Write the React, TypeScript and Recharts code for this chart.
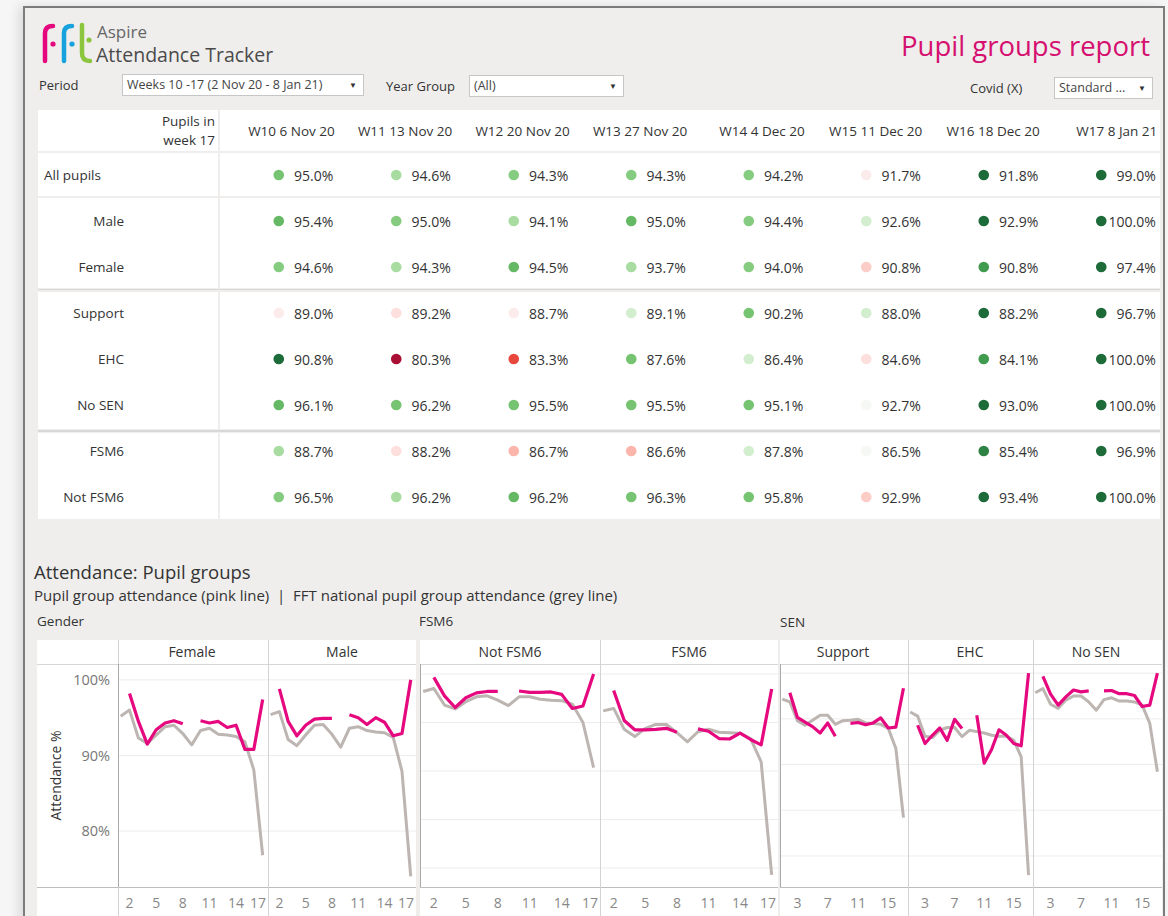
import React from 'react';
import { LineChart, Line, XAxis, YAxis, CartesianGrid, ScatterChart, Scatter } from 'recharts';

const FONT = '"Open Sans", "Noto Sans", Arial, sans-serif';
const PINK = '#e5087e';
const NATIONAL = '#bdb5b1';
const TEXT = '#333333';

// weekly summary table (weeks 10-17)
const weekHeaders = ['W10 6 Nov 20', 'W11 13 Nov 20', 'W12 20 Nov 20', 'W13 27 Nov 20', 'W14 4 Dec 20', 'W15 11 Dec 20', 'W16 18 Dec 20', 'W17 8 Jan 21'];
const groupRows = ['All pupils', 'Male', 'Female', 'Support', 'EHC', 'No SEN', 'FSM6', 'Not FSM6'];
const allPupilsPct = [95.0, 94.6, 94.3, 94.3, 94.2, 91.7, 91.8, 99.0];

// colour band of each table cell (-5 well below national ... 6 well above)
const allPupilsBand = [3.5, 2, 3, 3, 3, -1, 6, 6];
const maleBand = [4, 3, 2, 4, 3, 1, 6, 6];
const femaleBand = [3, 2, 4, 2, 3, -2, 5, 6];
const supportBand = [-1, -1.5, -1, 1, 3.5, 1, 6, 6];
const ehcBand = [6, -5, -4, 3.5, 1, -1.5, 5, 6];
const noSenBand = [4, 3.5, 3.5, 3.5, 3.5, 0, 6, 6];
const fsm6Band = [2, -1.5, -3, -3, 1, 0, 5.5, 6];
const notFsm6Band = [3, 2, 4, 3.5, 3.5, -2, 6, 6];

// weeks of the year shown in the small multiples
const weeks = [1, 2, 3, 4, 5, 6, 7, 8, 9, 10, 11, 12, 13, 14, 15, 16, 17];

const femaleSchool = [null, 98.2, 94.5, 91.5, 93.4, 94.3, 94.6, 94.2, null, 94.6, 94.3, 94.5, 93.7, 94.0, 90.8, 90.8, 97.4];
const femaleNational = [95.2, 96.0, 92.3, 91.6, 92.7, 93.8, 94.0, 92.9, 91.4, 93.3, 93.6, 92.8, 92.7, 92.5, 91.8, 88.1, 76.8];
const maleSchool = [null, 98.8, 94.5, 92.6, 94.0, 94.8, 94.9, 94.9, null, 95.4, 95.0, 94.1, 95.0, 94.4, 92.6, 92.9, 100.0];
const maleNational = [95.4, 95.8, 92.1, 91.3, 92.7, 94.0, 94.1, 92.8, 91.1, 93.6, 93.8, 93.3, 93.1, 93.0, 92.4, 87.9, 74.0];
const notFsm6School = [null, 99.3, 95.5, 93.1, 95.1, 96.1, 96.4, 96.4, null, 96.5, 96.2, 96.2, 96.3, 95.8, 92.9, 93.4, 100.0];
const notFsm6National = [96.4, 97.0, 93.6, 92.8, 94.3, 95.3, 95.5, 94.6, 93.5, 95.3, 95.3, 94.8, 94.6, 94.5, 93.8, 90.0, 80.7];
const fsm6School = [null, 96.6, 90.4, 88.5, 88.5, 88.6, 88.8, 88.0, null, 88.7, 88.2, 86.7, 86.6, 87.8, 86.5, 85.4, 96.9];
const fsm6National = [92.4, 92.9, 88.6, 87.1, 88.8, 89.6, 89.6, 87.9, 86.0, 88.1, 88.6, 88.0, 87.9, 87.8, 86.7, 81.9, 58.6];
const supportSchool = [null, 95.7, 90.3, 89.3, 88.3, 86.9, 89.1, 86.2, null, 89.0, 89.2, 88.7, 89.1, 90.2, 88.0, 88.2, 96.7];
const supportNational = [94.3, 93.7, 89.6, 88.6, 89.7, 90.8, 90.8, 88.8, 89.6, 89.7, 89.9, 89.1, 89.0, 88.8, 87.9, 83.5, 68.4];
const ehcSchool = [null, 88.6, 84.6, 86.4, 88.0, 85.3, 89.9, 87.9, null, 90.8, 80.3, 83.3, 87.6, 86.4, 84.6, 84.1, 100.0];
const ehcNational = [91.5, 90.6, 86.2, 85.9, 87.5, 88.1, 88.1, 86.1, 87.5, 87.2, 86.9, 86.4, 86.2, 86.2, 85.3, 81.7, 55.8];
const noSenSchool = [null, 99.3, 95.4, 93.0, 94.8, 96.3, 95.9, 96.1, null, 96.1, 96.2, 95.5, 95.5, 95.1, 92.7, 93.0, 100.0];
const noSenNational = [95.7, 96.6, 93.2, 92.3, 94.1, 95.0, 95.0, 93.7, 91.9, 94.2, 94.6, 93.9, 93.9, 93.7, 93.0, 89.0, 78.4];

const bandColor: Record<string, string> = {
  '-5': '#a90f33',
  '-4': '#e8473d',
  '-3': '#fbb5aa',
  '-2': '#fcccc6',
  '-1.5': '#fde0dd',
  '-1': '#fcebeb',
  '0': '#f5f8f3',
  '1': '#d3eecf',
  '2': '#a8dca1',
  '3': '#86cc80',
  '3.5': '#76c471',
  '4': '#66b964',
  '5': '#409b4e',
  '5.5': '#2e8344',
  '6': '#1e6b3a',
};

const tableValues = [
  allPupilsPct,
  maleSchool.slice(9),
  femaleSchool.slice(9),
  supportSchool.slice(9),
  ehcSchool.slice(9),
  noSenSchool.slice(9),
  fsm6School.slice(9),
  notFsm6School.slice(9),
];
const tableBands = [allPupilsBand, maleBand, femaleBand, supportBand, ehcBand, noSenBand, fsm6Band, notFsm6Band];

const tableData = tableValues.flatMap((vals, row) =>
  vals.map((v, col) => ({ col, row, value: v as number, band: tableBands[row][col] }))
);

type TxtProps = {
  x: number;
  y: number;
  size?: number;
  color?: string;
  weight?: number;
  align?: 'left' | 'right' | 'center';
  children: React.ReactNode;
};

function Txt({ x, y, size = 14, color = TEXT, weight = 400, align = 'left', children }: TxtProps) {
  const tx = align === 'left' ? '0' : align === 'right' ? '-100%' : '-50%';
  return (
    <div
      style={{
        position: 'absolute',
        left: x,
        top: y,
        transform: `translate(${tx}, -50%)`,
        fontSize: size,
        color,
        fontWeight: weight,
        fontFamily: FONT,
        lineHeight: 1,
        whiteSpace: 'pre',
      }}
    >
      {children}
    </div>
  );
}

function Box({ x, y, w, h, bg, style }: { x: number; y: number; w: number; h: number; bg?: string; style?: React.CSSProperties }) {
  return <div style={{ position: 'absolute', left: x, top: y, width: w, height: h, background: bg, ...style }} />;
}

function Dropdown({ x, y, w, label }: { x: number; y: number; w: number; label: string }) {
  return (
    <>
      <Box x={x} y={y} w={w} h={22} bg="#ffffff" style={{ border: '1px solid #c6c6c6', boxSizing: 'border-box' }} />
      <Txt x={x + 5} y={y + 11} size={12.5} color="#444">{label}</Txt>
      <Txt x={x + w - 11} y={y + 11} size={8} color="#333" align="center">▼</Txt>
    </>
  );
}

function HeaderTick(props: any) {
  const { x, payload } = props;
  return (
    <text x={x + 56} y={21} textAnchor="end" dominantBaseline="central" fontSize={13.5} fill={TEXT} fontFamily={FONT}>
      {weekHeaders[payload.value]}
    </text>
  );
}

function RowTick(props: any) {
  const { y, payload } = props;
  const first = payload.value === 0;
  return (
    <text x={first ? 6 : 86} y={y} textAnchor={first ? 'start' : 'end'} dominantBaseline="central" fontSize={13.5} fill={TEXT} fontFamily={FONT}>
      {groupRows[payload.value]}
    </text>
  );
}

function CellShape(props: any) {
  const { cx, cy, payload } = props;
  return (
    <g>
      <circle cx={cx} cy={cy} r={5.3} fill={bandColor[String(payload.band)]} />
      <text x={cx + 54.5} y={cy} textAnchor="end" dominantBaseline="central" fontSize={14} fill={TEXT} fontFamily={FONT}>
        {payload.value.toFixed(1)}%
      </text>
    </g>
  );
}

// keeps the last week label inside its panel, as the original does
function WeekTick(props: any) {
  const { x, y, payload, maxX } = props;
  const half = String(payload.value).length * 4;
  const cx = Math.min(x, maxX - half - 2);
  return (
    <text x={cx} y={y} dy="0.71em" textAnchor="middle" fontSize={14} fill="#888" fontFamily={FONT}>
      {payload.value}
    </text>
  );
}

const blocks: Record<string, { domain: [number, number]; grid: number[]; xTicks: number[] }> = {
  gender: { domain: [72.6, 102.1], grid: [80, 90, 100], xTicks: [2, 5, 8, 11, 14, 17] },
  fsm: { domain: [56.1, 102.06], grid: [60, 70, 80, 90, 100], xTicks: [2, 5, 8, 11, 14, 17] },
  sen: { domain: [53.2, 102.0], grid: [60, 70, 80, 90, 100], xTicks: [3, 7, 11, 15] },
};

const facets = [
  { name: 'Female', school: femaleSchool, national: femaleNational, block: 'gender', left: 37, width: 231, axis: true },
  { name: 'Male', school: maleSchool, national: maleNational, block: 'gender', left: 268, width: 148, axis: false },
  { name: 'Not FSM6', school: notFsm6School, national: notFsm6National, block: 'fsm', left: 420, width: 180, axis: false },
  { name: 'FSM6', school: fsm6School, national: fsm6National, block: 'fsm', left: 600, width: 178, axis: false },
  { name: 'Support', school: supportSchool, national: supportNational, block: 'sen', left: 780, width: 128, axis: false },
  { name: 'EHC', school: ehcSchool, national: ehcNational, block: 'sen', left: 908, width: 125, axis: false },
  { name: 'No SEN', school: noSenSchool, national: noSenNational, block: 'sen', left: 1033, width: 129, axis: false },
];

const PLOT_TOP = 664;
const CHART_H = 252;

function Facet({ f }: { f: (typeof facets)[number] }) {
  const b = blocks[f.block];
  const data = weeks.map((w, i) => ({ week: w, school: f.school[i], national: f.national[i] }));
  return (
    <div style={{ position: 'absolute', left: f.left, top: PLOT_TOP }}>
      <LineChart width={f.width} height={CHART_H} data={data} margin={{ top: 0, right: 0, bottom: 0, left: 0 }}>
        <CartesianGrid vertical={false} stroke="#ededed" horizontalValues={b.grid} />
        <XAxis
          type="number"
          dataKey="week"
          domain={[0.7, 17.6]}
          ticks={b.xTicks}
          height={29}
          axisLine={false}
          tickLine={false}
          tickMargin={5}
          interval={0}
          tick={(p: any) => <WeekTick {...p} maxX={f.width} />}
        />
        <YAxis
          type="number"
          domain={b.domain}
          allowDataOverflow
          ticks={b.grid}
          hide={!f.axis}
          width={f.axis ? 81 : 0}
          axisLine={false}
          tickLine={false}
          tickFormatter={(v: number) => `${v}%`}
          tick={{ fill: '#777', fontSize: 14.5, fontFamily: FONT }}
          label={f.axis ? { value: 'Attendance %', angle: -90, position: 'insideLeft', offset: 19, fill: TEXT, fontSize: 14, fontFamily: FONT, style: { textAnchor: 'middle' } } : undefined}
        />
        <Line type="linear" dataKey="national" stroke={NATIONAL} strokeWidth={3} dot={false} isAnimationActive={false} strokeLinejoin="round" />
        <Line type="linear" dataKey="school" stroke={PINK} strokeWidth={3.2} dot={false} isAnimationActive={false} connectNulls={false} strokeLinejoin="round" />
      </LineChart>
    </div>
  );
}

export default function App() {
  return (
    <div style={{ position: 'absolute', left: 0, top: 0, width: 1168, height: 916, overflow: 'hidden', background: '#f6f6f6', fontFamily: FONT }}>
      {/* frame */}
      <Box x={23} y={6} w={1142} h={930} bg="#efeeed" style={{ border: '2px solid #7c7c7c', boxSizing: 'border-box', boxShadow: '-5px 0 10px rgba(0,0,0,0.10)' }} />

      {/* logo */}
      <svg style={{ position: 'absolute', left: 0, top: 0 }} width={100} height={70}>
        <path d="M45 61 V33 Q45 26 53 26" stroke="#e5077e" strokeWidth={4.5} fill="none" strokeLinecap="round" />
        <circle cx={53} cy={44} r={2.6} fill="#e5077e" />
        <path d="M64 61 V33 Q64 26 72 26" stroke="#16a2dc" strokeWidth={4.5} fill="none" strokeLinecap="round" />
        <circle cx={72} cy={44} r={2.6} fill="#16a2dc" />
        <path d="M82 25 V53 Q82 61 90 61" stroke="#8cc63f" strokeWidth={4.5} fill="none" strokeLinecap="round" />
        <circle cx={89} cy={40} r={2.6} fill="#8cc63f" />
      </svg>
      <Txt x={97} y={30.5} size={17} color="#666">Aspire</Txt>
      <Txt x={96} y={55} size={19.5} color="#4a4a4a">Attendance Tracker</Txt>
      <Txt x={1150} y={46} size={27.5} color="#d5106f" align="right">Pupil groups report</Txt>

      {/* filters */}
      <Txt x={39} y={85} size={13}>Period</Txt>
      <Dropdown x={122} y={74} w={242} label="Weeks 10 -17 (2 Nov 20 - 8 Jan 21)" />
      <Txt x={386} y={86} size={13}>Year Group</Txt>
      <Dropdown x={469} y={75} w={155} label="(All)" />
      <Txt x={970} y={88} size={13}>Covid (X)</Txt>
      <Dropdown x={1054} y={77} w={99} label="Standard ..." />

      {/* table backgrounds */}
      <Box x={38} y={110} w={180} h={41} bg="#fff" />
      <Box x={220} y={110} w={940} h={41} bg="#fff" />
      <Box x={38} y={153} w={180} h={43} bg="#fff" />
      <Box x={220} y={153} w={940} h={43} bg="#fff" />
      <Box x={38} y={198} w={180} h={90} bg="#fff" />
      <Box x={220} y={198} w={940} h={90} bg="#fff" />
      <Box x={38} y={292} w={180} h={137} bg="#fff" />
      <Box x={220} y={292} w={940} h={137} bg="#fff" />
      <Box x={38} y={433} w={180} h={86} bg="#fff" />
      <Box x={220} y={433} w={940} h={86} bg="#fff" />
      <Box x={38} y={289} w={1122} h={1} bg="#d8d8d8" />
      <Box x={38} y={430} w={1122} h={2} bg="#d8d8d8" />
      <Txt x={215} y={122} size={13.5} align="right">Pupils in</Txt>
      <Txt x={215} y={141} size={13.5} align="right">week 17</Txt>

      <div style={{ position: 'absolute', left: 38, top: 110 }}>
        <ScatterChart width={1122} height={410} margin={{ top: 0, right: 0, bottom: 0, left: 0 }}>
          <XAxis
            type="number"
            dataKey="col"
            domain={[-0.5, 7.5]}
            ticks={[0, 1, 2, 3, 4, 5, 6, 7]}
            orientation="top"
            height={42}
            axisLine={false}
            tickLine={false}
            interval={0}
            tick={<HeaderTick />}
          />
          <YAxis
            type="number"
            dataKey="row"
            domain={[-0.5, 7.5]}
            ticks={[0, 1, 2, 3, 4, 5, 6, 7]}
            reversed
            width={182}
            axisLine={false}
            tickLine={false}
            interval={0}
            tick={<RowTick />}
          />
          <Scatter data={tableData} shape={<CellShape />} isAnimationActive={false} />
        </ScatterChart>
      </div>

      {/* small multiples */}
      <Txt x={34} y={572} size={18.5}>Attendance: Pupil groups</Txt>
      <Txt x={34} y={595} size={15}>Pupil group attendance (pink line)  |  FFT national pupil group attendance (grey line)</Txt>
      <Txt x={37} y={622} size={13.5}>Gender</Txt>
      <Txt x={419} y={622} size={13.5}>FSM6</Txt>
      <Txt x={780} y={623} size={13.5}>SEN</Txt>

      <Box x={37} y={640} w={379} h={280} bg="#fff" />
      <Box x={420} y={640} w={358} h={280} bg="#fff" />
      <Box x={780} y={640} w={382} h={280} bg="#fff" />

      {facets.map((f) => (
        <Facet key={f.name} f={f} />
      ))}

      <Box x={37} y={664} w={379} h={1} bg="#d6d6d6" />
      <Box x={420} y={664} w={358} h={1} bg="#d6d6d6" />
      <Box x={780} y={664} w={382} h={1} bg="#d6d6d6" />
      <Box x={37} y={887} w={379} h={1} bg="#bdbdbd" />
      <Box x={420} y={887} w={358} h={1} bg="#bdbdbd" />
      <Box x={780} y={887} w={382} h={1} bg="#bdbdbd" />
      {[268, 600, 908, 1033].map((x) => (
        <Box key={x} x={x} y={640} w={1} h={280} bg="#d3d3d3" />
      ))}
      <Box x={118} y={640} w={1} h={280} bg="#d3d3d3" />
      {[118, 420, 780].map((x) => (
        <Box key={'a' + x} x={x} y={664} w={1} h={223} bg="#a9a9a9" />
      ))}

      <Txt x={192} y={652} size={14} align="center">Female</Txt>
      <Txt x={342} y={652} size={14} align="center">Male</Txt>
      <Txt x={510} y={652} size={14} align="center">Not FSM6</Txt>
      <Txt x={689} y={652} size={14} align="center">FSM6</Txt>
      <Txt x={843} y={652} size={14} align="center">Support</Txt>
      <Txt x={970} y={652} size={14} align="center">EHC</Txt>
      <Txt x={1096} y={652} size={14} align="center">No SEN</Txt>
    </div>
  );
}
